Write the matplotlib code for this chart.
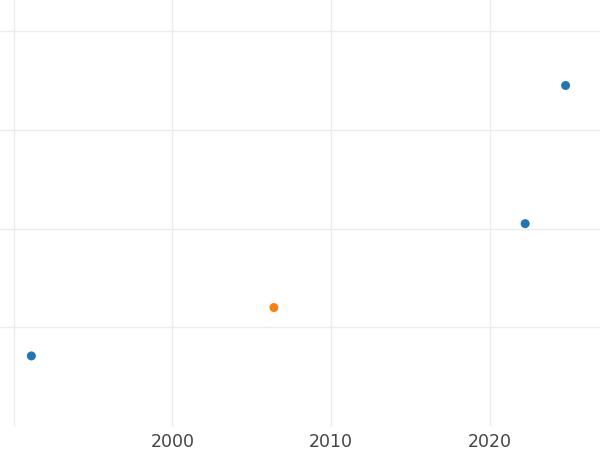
import matplotlib
matplotlib.use("Agg")
import matplotlib.pyplot as plt

years = [1991.1, 2006.4, 2022.25, 2024.8]
values = [0.71, 1.20, 2.05, 3.45]
colors = ["#1f77b4", "#ff7f0e", "#1f77b4", "#1f77b4"]
xticks = [1990, 2000, 2010, 2020]
xticklabels = ["", "2000", "2010", "2020"]
yticks = [1, 2, 3, 4]

fig = plt.figure(figsize=(6, 4.5), dpi=100)
ax = fig.add_axes([0.0, 1 - 426 / 450, 1.0, 426 / 450])
ax.scatter(years, values, c=colors, s=42, linewidths=0, zorder=3)
ax.set_xlim(1989.12, 2026.97)
ax.set_ylim(0, 4.316)
ax.set_xticks(xticks)
ax.set_xticklabels(xticklabels)
ax.set_yticks(yticks)
ax.set_yticklabels([])
ax.grid(True, color="#ebebeb", linewidth=1.0)
ax.set_axisbelow(True)
for s in ax.spines.values():
    s.set_visible(False)
ax.tick_params(axis="both", length=0, labelsize=12.5, labelcolor="#444444", pad=5)
fig.savefig("out.png", dpi=100)
